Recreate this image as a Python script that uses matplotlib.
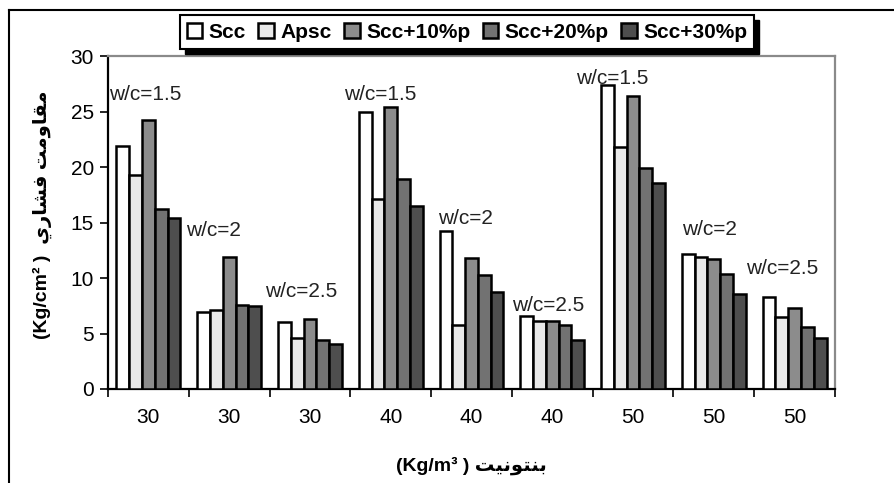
import matplotlib
matplotlib.use("Agg")
import matplotlib.pyplot as plt
from matplotlib.patches import Rectangle
import numpy as np

plt.rcParams['font.family'] = ['Liberation Sans', 'DejaVu Sans']

# data
groups = ['30', '30', '30', '40', '40', '40', '50', '50', '50']
series = ['Scc', 'Apsc', 'Scc+10%p', 'Scc+20%p', 'Scc+30%p']
scc    = [21.9, 6.9, 6.0, 25.0, 14.2, 6.6, 27.4, 12.2, 8.3]
apsc   = [19.3, 7.1, 4.6, 17.1, 5.8, 6.1, 21.8, 11.9, 6.5]
p10    = [24.2, 11.9, 6.3, 25.4, 11.8, 6.1, 26.4, 11.7, 7.3]
p20    = [16.2, 7.6, 4.4, 18.9, 10.3, 5.8, 19.9, 10.4, 5.6]
p30    = [15.4, 7.5, 4.05, 16.5, 8.7, 4.4, 18.6, 8.6, 4.6]
wc_labels = ['w/c=1.5', 'w/c=2', 'w/c=2.5'] * 3

colors = ['#ffffff', '#e9e9e9', '#8c8c8c', '#727272', '#4e4e4e']

# label placement (x in category units, y in data units)
wc_x = [-0.04, 0.81, 1.89, 2.87, 3.92, 4.95, 5.74, 6.95, 7.85]
wc_y = [26.5, 14.3, 8.8, 26.5, 15.4, 7.5, 28.0, 14.4, 10.9]

fig = plt.figure(figsize=(8.94, 4.83), dpi=100)
ax = fig.add_axes([108/894, 1 - 389/483, (835 - 108)/894, (389 - 56)/483])

x = np.arange(len(groups))
w = 0.158
vals = [scc, apsc, p10, p20, p30]
for i, (name, v) in enumerate(zip(series, vals)):
    ax.bar(x + (i - 2) * w, v, w, color=colors[i], edgecolor='black',
           linewidth=1.8, label=name, zorder=3)

for xi, yi, t in zip(wc_x, wc_y, wc_labels):
    ax.text(xi, yi, t, ha='center', va='center', fontsize=15, color='#222222')

ax.set_xlim(-0.5, len(groups) - 0.5)
ax.set_ylim(0, 30)
ax.set_yticks(range(0, 31, 5))
ax.set_xticks(np.arange(-0.5, len(groups), 1.0))
ax.set_xticklabels([])
ax.set_xticks(x, minor=True)
ax.set_xticklabels(groups, minor=True)
ax.tick_params(axis='x', which='minor', length=0, pad=14, labelsize=15)
ax.tick_params(axis='x', which='major', length=6, width=1.2, direction='out')
ax.tick_params(axis='y', length=6, width=1.2, direction='out', labelsize=15, pad=4)

for s in ['left', 'bottom']:
    ax.spines[s].set_linewidth(1.6)
for s in ['top', 'right']:
    ax.spines[s].set_color('#8a8a8a')
    ax.spines[s].set_linewidth(1.6)

ylab = ('(Kg/cm\u00b2 )  '
        '\uFEF1\uFEAD\uFE8E\uFEB8\uFED3 '
        '\uFE96\uFEE3\uFEED\uFE8E\uFED8\uFEE3')
xlab = ('(Kg/m\u00b3 ) '
        '\uFE96\uFEF4\uFEE7\uFEEE\uFE98\uFEE8\uFE91')
fig.text(42/894, 1 - 215/483, ylab, rotation=90, ha='center', va='center',
         fontsize=14, fontweight='bold')
fig.text(471/894, 1 - 466/483, xlab, ha='center', va='center',
         fontsize=14, fontweight='bold')

leg = fig.legend(loc='center', bbox_to_anchor=(467/894, 1 - 32/483), ncol=5,
                 fancybox=False, framealpha=1, edgecolor='black',
                 prop={'weight': 'bold', 'size': 15}, handlelength=0.75,
                 handleheight=0.75, handletextpad=0.3, columnspacing=0.6,
                 borderpad=0.35, borderaxespad=0)
leg.get_frame().set_linewidth(1.5)

# heavy black drop shadow behind the legend
fig.canvas.draw()
bb = leg.get_window_extent()
fig.add_artist(Rectangle((bb.x0 + 5, bb.y0 - 5), bb.width, bb.height,
                         transform=None, facecolor='black', edgecolor='black',
                         zorder=leg.get_zorder() - 0.5))

# outer frame of the figure
fig.add_artist(plt.Line2D([9/894, 9/894], [0, 1 - 10/483], color='black', lw=1.5))
fig.add_artist(plt.Line2D([9/894, 1], [1 - 10/483, 1 - 10/483], color='black', lw=1.5))

fig.savefig('out.png', dpi=100)
